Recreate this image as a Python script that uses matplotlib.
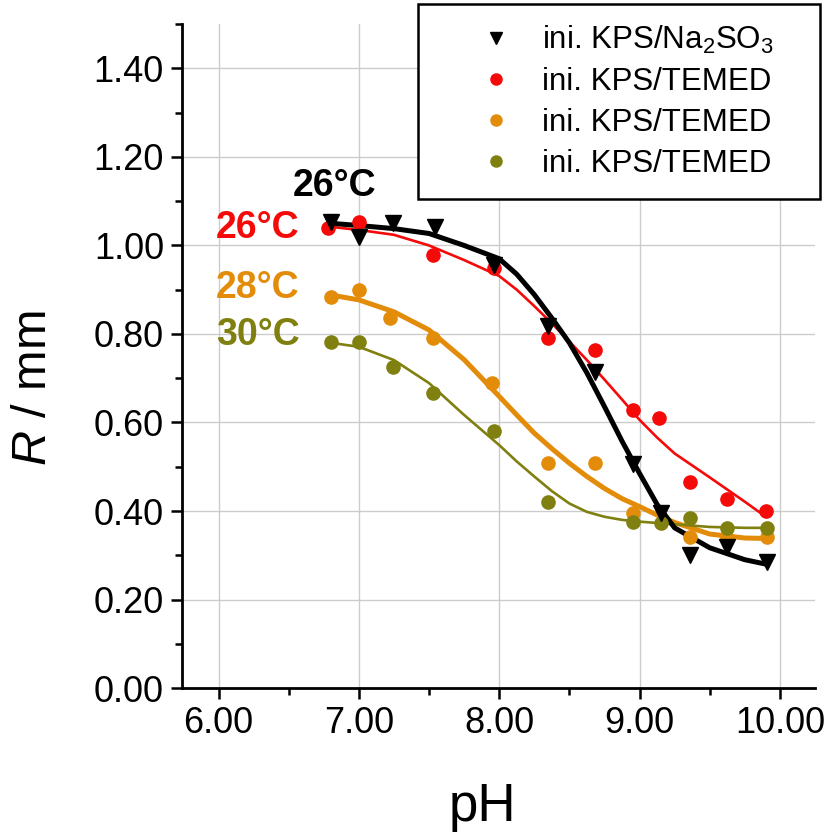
import matplotlib
matplotlib.use('Agg')
import matplotlib.pyplot as plt
from matplotlib.lines import Line2D
from matplotlib.ticker import MultipleLocator, FormatStrFormatter

plt.rcParams['font.family'] = ['Liberation Sans', 'DejaVu Sans']
plt.rcParams['mathtext.fontset'] = 'custom'
plt.rcParams['mathtext.rm'] = 'Liberation Sans'
plt.rcParams['mathtext.it'] = 'Liberation Sans:italic'

# measured points
ph_na2so3 = [6.80, 7.00, 7.24, 7.54, 7.96, 8.35, 8.68, 8.95, 9.15, 9.36, 9.62, 9.91]
r_na2so3 = [1.053, 1.020, 1.051, 1.042, 0.955, 0.817, 0.715, 0.506, 0.395, 0.300, 0.319, 0.285]

ph_26 = [6.78, 7.00, 7.53, 7.96, 8.35, 8.68, 8.95, 9.14, 9.36, 9.62, 9.90]
r_26 = [1.040, 1.053, 0.978, 0.950, 0.792, 0.764, 0.628, 0.610, 0.466, 0.427, 0.400]

ph_28 = [6.80, 7.00, 7.22, 7.53, 7.95, 8.35, 8.68, 8.95, 9.36, 9.62, 9.91]
r_28 = [0.884, 0.900, 0.836, 0.791, 0.689, 0.509, 0.509, 0.395, 0.342, 0.339, 0.341]

ph_30 = [6.80, 7.00, 7.24, 7.53, 7.96, 8.35, 8.95, 9.15, 9.36, 9.62, 9.91]
r_30 = [0.782, 0.782, 0.725, 0.666, 0.580, 0.421, 0.375, 0.373, 0.384, 0.362, 0.362]

# fitted curves
ph_fit = [6.8, 7.0, 7.25, 7.5, 7.75, 8.0, 8.125, 8.25, 8.375, 8.5, 8.625, 8.75, 8.875,
          9.0, 9.125, 9.25, 9.5, 9.75, 9.9]
fit_na2so3 = [1.050, 1.045, 1.038, 1.027, 1.000, 0.970, 0.935, 0.889, 0.836, 0.780, 0.712, 0.636, 0.558,
              0.485, 0.415, 0.362, 0.317, 0.290, 0.280]
fit_26 = [1.042, 1.035, 1.024, 1.000, 0.967, 0.931, 0.900, 0.863, 0.824, 0.783, 0.741, 0.697, 0.652,
          0.606, 0.566, 0.530, 0.476, 0.421, 0.387]
fit_28 = [0.888, 0.877, 0.850, 0.809, 0.742, 0.659, 0.617, 0.576, 0.541, 0.508, 0.478, 0.451, 0.428,
          0.410, 0.391, 0.374, 0.348, 0.339, 0.338]
fit_30 = [0.780, 0.771, 0.741, 0.689, 0.617, 0.549, 0.512, 0.478, 0.445, 0.417, 0.398, 0.387, 0.380,
          0.376, 0.373, 0.370, 0.364, 0.362, 0.362]

c_black = 'black'
c_red = '#f50a0a'
c_orange = '#e38c0a'
c_olive = '#808010'

fig = plt.figure(figsize=(8.35, 8.32), dpi=100)
ax = fig.add_axes([0.218, 0.173, 0.758, 0.798])

# fits
ax.plot(ph_fit, fit_28, color=c_orange, lw=3.6, zorder=2)
ax.plot(ph_fit, fit_30, color=c_olive, lw=1.9, zorder=2)
ax.plot(ph_fit, fit_26, color=c_red, lw=1.9, zorder=2)
ax.plot(ph_fit, fit_na2so3, color=c_black, lw=3.6, zorder=3)

# points
ax.plot(ph_28, r_28, 'o', color=c_orange, ms=9.5, zorder=4)
ax.plot(ph_30, r_30, 'o', color=c_olive, ms=9.5, zorder=4)
ax.plot(ph_26, r_26, 'o', color=c_red, ms=9.5, zorder=4)
ax.plot(ph_na2so3, r_na2so3, 'v', color=c_black, ms=12, zorder=5)

# temperature labels
ax.text(6.83, 1.134, '26°C', color=c_black, fontsize=27, fontweight='bold', ha='center', va='center')
ax.text(6.28, 1.040, '26°C', color=c_red, fontsize=27, fontweight='bold', ha='center', va='center')
ax.text(6.28, 0.904, '28°C', color=c_orange, fontsize=27, fontweight='bold', ha='center', va='center')
ax.text(6.28, 0.798, '30°C', color=c_olive, fontsize=27, fontweight='bold', ha='center', va='center')

ax.set_xlim(5.74, 10.25)
ax.set_ylim(0, 1.5)
ax.xaxis.set_major_locator(MultipleLocator(1.0))
ax.xaxis.set_minor_locator(MultipleLocator(0.5))
ax.yaxis.set_major_locator(MultipleLocator(0.2))
ax.yaxis.set_minor_locator(MultipleLocator(0.1))
ax.xaxis.set_major_formatter(FormatStrFormatter('%.2f'))
ax.yaxis.set_major_formatter(FormatStrFormatter('%.2f'))
ax.set_yticks([0, 0.2, 0.4, 0.6, 0.8, 1.0, 1.2, 1.4])

ax.grid(True, which='major', color='#cccccc', lw=1.0)
ax.set_axisbelow(True)
for s in ['top', 'right']:
    ax.spines[s].set_visible(False)
for s in ['left', 'bottom']:
    ax.spines[s].set_linewidth(2.0)
ax.tick_params(which='major', length=8, width=1.8, labelsize=26, pad=5)
ax.tick_params(which='minor', length=5, width=1.8)

ax.set_xlabel('pH', fontsize=38)
ax.xaxis.set_label_coords(0.475, -0.179)
ax.xaxis.label.set_va('center')
ax.set_ylabel('$R$ / mm', fontsize=35)
ax.yaxis.set_label_coords(-0.235, 0.452)
ax.yaxis.label.set_va('center')

handles = [
    Line2D([], [], ls='none', marker='v', color=c_black, ms=9),
    Line2D([], [], ls='none', marker='o', color=c_red, ms=8),
    Line2D([], [], ls='none', marker='o', color=c_orange, ms=8),
    Line2D([], [], ls='none', marker='o', color=c_olive, ms=8),
]
labels = ['ini. KPS/Na$_2$SO$_3$', 'ini. KPS/TEMED', 'ini. KPS/TEMED', 'ini. KPS/TEMED']
leg = fig.legend(handles, labels, loc='upper left',
                 bbox_to_anchor=(418 / 835, 1 - 12 / 832, 402 / 835, 0.01),
                 mode='expand', borderaxespad=0, fontsize=22.5, frameon=True,
                 fancybox=False, edgecolor='black', framealpha=1,
                 handlelength=3.7, handletextpad=-0.39, borderpad=0.65,
                 labelspacing=0.35)
leg.get_frame().set_linewidth(1.8)

fig.savefig('out.png', dpi=100)
